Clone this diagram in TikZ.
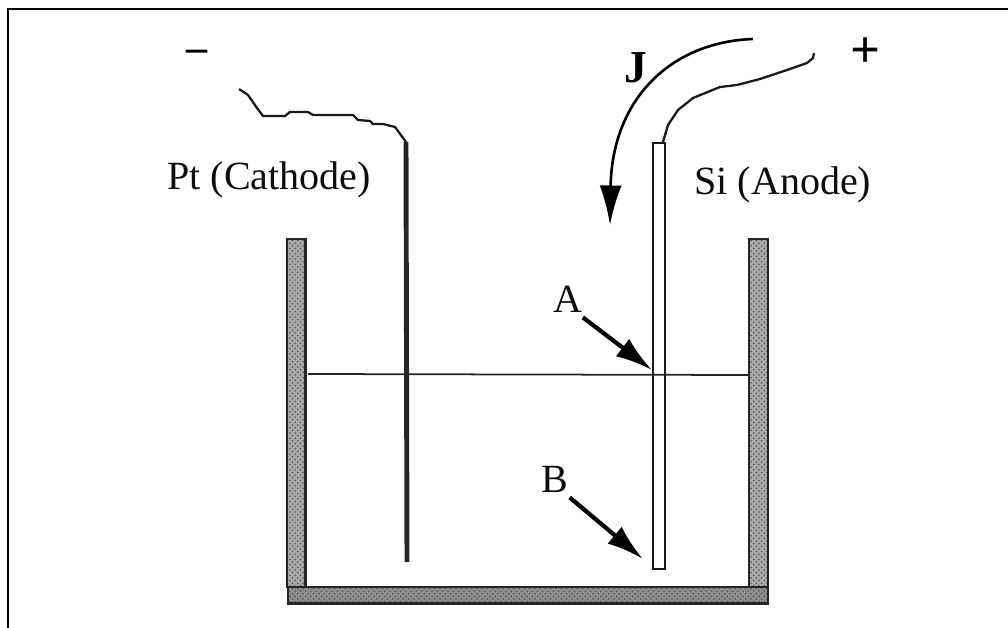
\documentclass[tikz,border=0pt]{standalone}
\usepackage{fontspec}
\setmainfont{Liberation Serif}
\usetikzlibrary{arrows.meta,positioning,patterns}
\definecolor{wallgray}{gray}{0.66}
\tikzset{
 floorbox/.style={draw=black!85,line width=1.3pt,inner sep=0pt,anchor=north west,pattern=crosshatch dots,pattern color=black!65},
 wallbox/.style={floorbox,preaction={fill=wallgray}},
 leadwire/.style={draw=black!90,line width=1.3pt,line join=round},
 bigtext/.style={font=\fontsize{22.8}{24}\selectfont,inner sep=0pt,text=black!95},
 pointer/.style={-{Latex[length=21pt,width=12.5pt]},line width=2.4pt,black},
}
\begin{document}
\begin{tikzpicture}[x=0.02cm,y=-0.02cm,>=Latex]
 \useasboundingbox (0,0) rectangle (1008,628);
 % frame
 \draw[line width=1.3pt] (8,628)--(8,9)--(1008,9);
 % vessel
 \node[wallbox,minimum width=0.37cm,minimum height=6.96cm] (wallL) at (286,238) {};
 \node[wallbox,minimum width=0.37cm,minimum height=6.96cm] (wallR) at (748,238) {};
 \shade[left color=black!45,middle color=black!75,right color=black!45] (287,586) rectangle (767,602.5);
 \node[floorbox,minimum width=9.6cm,minimum height=0.33cm] (floor) at (287,586) {};
 % anode strip and cathode rod
 \node[draw=black!90,line width=1.2pt,fill=white,minimum width=0.23cm,minimum height=8.52cm,inner sep=0pt,anchor=north west] (anode) at (652,142) {};
 \coordinate (cathtop) at (406,142);
 \coordinate (cathend) at (407,562);
 \draw[line width=2.8pt,black!85] (cathtop)--(cathend);
 % liquid level
 \coordinate (levelL) at (308,374);
 \coordinate (levelR) at (748,375);
 \draw[line width=1pt,black!85] (levelL)--(levelR);
 % wires
 \draw[leadwire] (cathtop)--(395,127)--(383,124)--(373,124)--(370,121)--(358,120)--(353,115)--(313,115)--(308,112)--(290,112)--(285,116)--(263,116)--(257,108)--(248,95)--(239,89);
 \coordinate (anodetop) at (663,142);
 \draw[leadwire] (anodetop)--(668,125)--(678,110)--(693,98)--(720,87)--(737,85)--(760,79)--(787,70)--(807,63)--(813,58)--(814,53);
 % current
 \coordinate (Jstart) at (753,39);
 \coordinate (Jend) at (610,225);
 \draw[-{Latex[length=22.5pt,width=12.5pt]},line width=1.5pt] (Jstart) .. controls (670,42) and (612,100) .. (Jend);
 % labels
 \node[bigtext,anchor=base west] (cathlab) at (167,190) {Pt (Cathode)};
 \node[bigtext,anchor=base west] (anodelab) at (694,195) {Si (Anode)};
 \node[font=\fontsize{26}{28}\selectfont\bfseries,inner sep=0pt,anchor=base] (Jlab) at (636,83) {J};
 \node[font=\fontsize{24}{26}\selectfont\bfseries,inner sep=0pt] (minus) at (197,56) {–};
 \node[font=\fontsize{30}{32}\selectfont\bfseries,inner sep=0pt] (plus) at (866,53) {+};
 \node[bigtext,anchor=base] (Alab) at (568,313) {A};
 \node[bigtext,anchor=base] (Blab) at (555,492) {B};
 \coordinate (Atip) at (652,370);
 \coordinate (Btip) at (643,559);
 \draw[pointer] (Alab.south east)++(0,4) -- (Atip);
 \draw[pointer] (Blab.south east)++(1,5) -- (Btip);
\end{tikzpicture}
\end{document}
